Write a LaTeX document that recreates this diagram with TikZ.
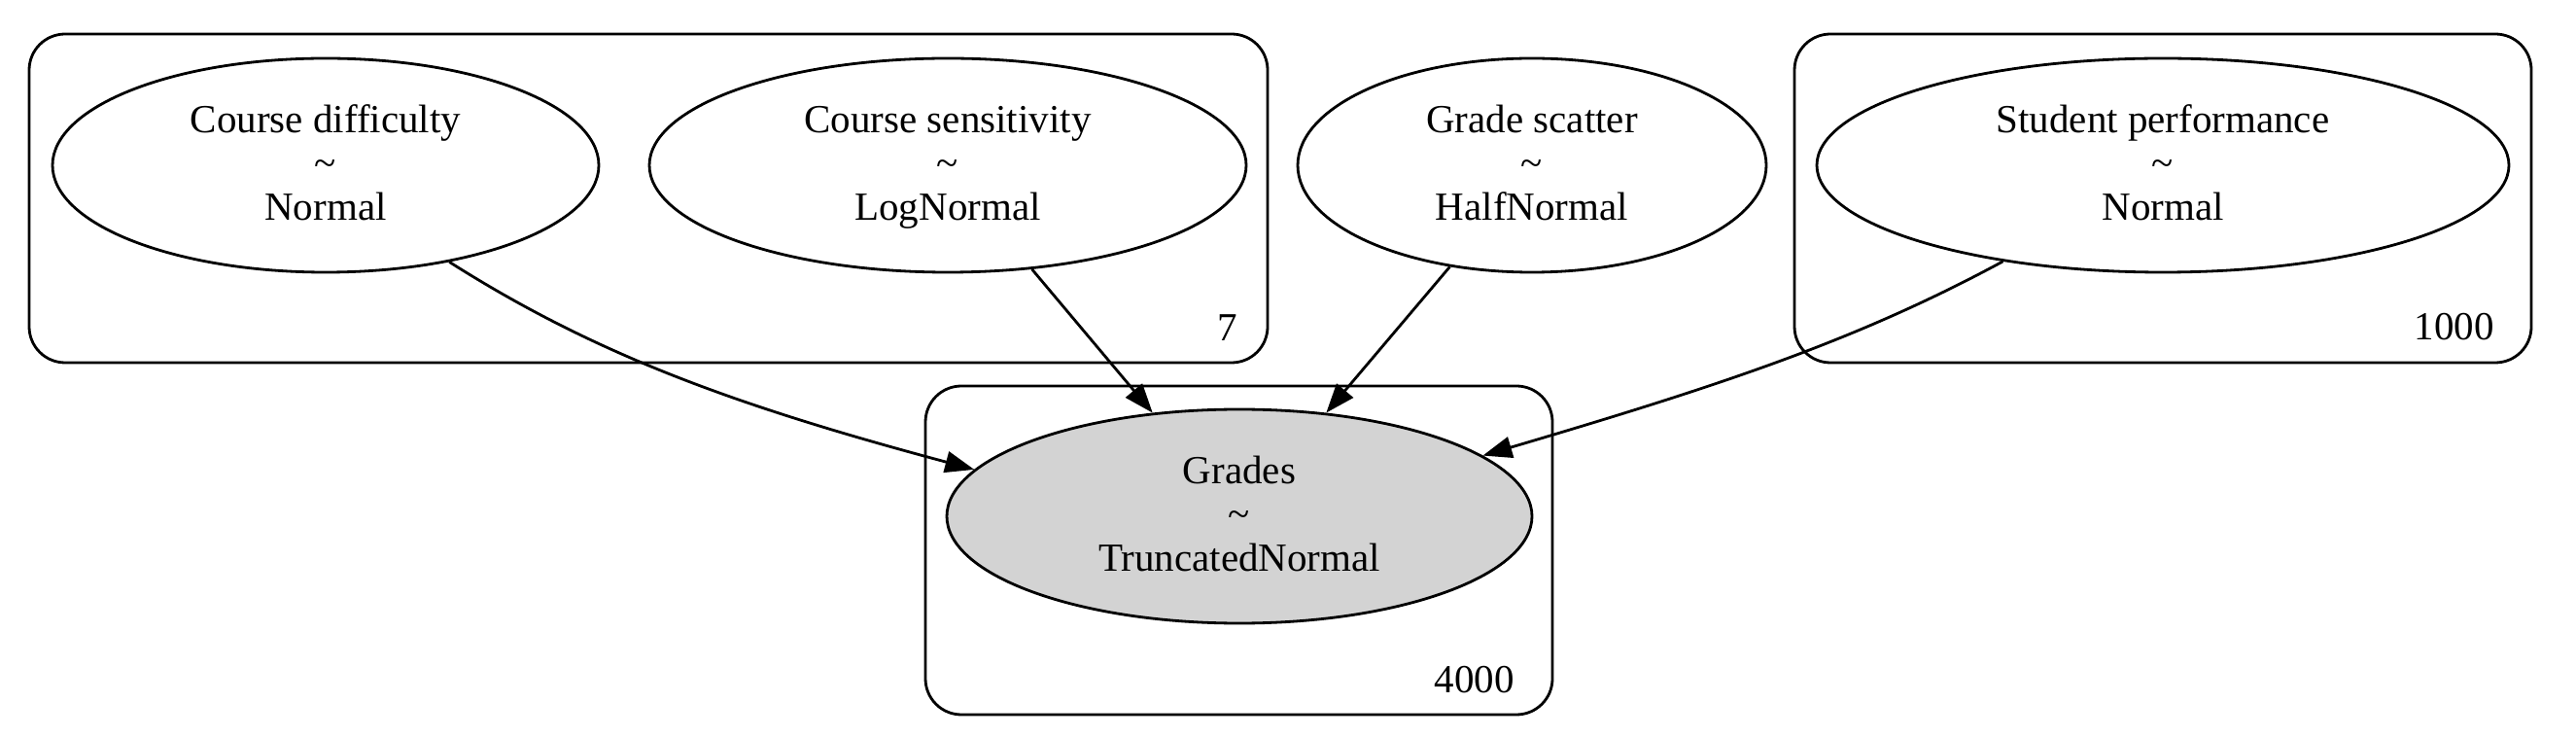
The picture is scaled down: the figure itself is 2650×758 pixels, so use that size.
\documentclass[tikz,border=0pt]{standalone}
\usepackage{fontspec}
\setmainfont{Liberation Serif}
\usetikzlibrary{shapes.geometric,arrows.meta}

\begin{document}
\begin{tikzpicture}[x=0.5pt,y=-0.5pt,line width=1.4pt,
  font=\fontsize{20.5pt}{22.5pt}\selectfont,
  var/.style={draw, ellipse, inner sep=0pt, minimum height=110pt, align=center, text height=59pt, text depth=2pt},
  plate/.style={draw, rounded corners=18.5pt, minimum height=169pt},
  edge/.style={-{Triangle[length=15pt,width=11pt]}}]
  \useasboundingbox (0,0) rectangle (2650,758);

  \node[plate, minimum width=637pt] (P7) at (667,204) {};
  \node[plate, minimum width=379pt] (P1000) at (2225,204) {};
  \node[plate, minimum width=322.5pt] (P4000) at (1274.5,566) {};
  \node[anchor=base east, inner sep=0pt] (L7) at (1274,351) {7};
  \node[anchor=base east, inner sep=0pt] (L1000) at (2567,350) {1000};
  \node[anchor=base east, inner sep=0pt] (L4000) at (1559,712) {4000};

  \node[var, minimum width=281pt] (CD) at (335,170) {Course difficulty\\\textasciitilde\\Normal};
  \node[var, minimum width=307pt] (CS) at (975,170) {Course sensitivity\\\textasciitilde\\LogNormal};
  \node[var, minimum width=241pt] (GS) at (1576,170) {Grade scatter\\\textasciitilde\\HalfNormal};
  \node[var, minimum width=356pt] (SP) at (2225,170) {Student performance\\\textasciitilde\\Normal};
  \node[var, minimum width=301pt, fill={rgb,255:red,211;green,211;blue,211}] (GR) at (1275,531) {Grades\\\textasciitilde\\TruncatedNormal};

  \draw[edge] (CD.-38) .. controls (613,365) and (756,417) .. (GR.170);
  \draw[edge] (CS.-51) -- (GR.130);
  \draw[edge] (GS.-129.5) -- (GR.50);
  \draw[edge] (SP.211) .. controls (1912,349) and (1775,395) .. (GR.14);
\end{tikzpicture}
\end{document}
